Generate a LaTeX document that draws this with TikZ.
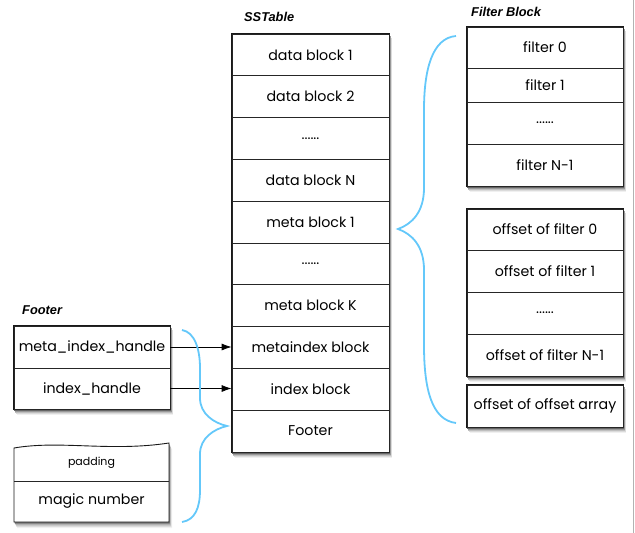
\documentclass[tikz,border=0pt]{standalone}
\usepackage{fontspec}
\setmainfont{Poppins}
\newfontfamily\labelfont{Liberation Sans}
\usetikzlibrary{backgrounds,fit,arrows.meta}
\definecolor{bracecol}{RGB}{100,200,250}
\tikzset{
  cell/.style={draw=black!85, line width=0.8pt, fill=white, inner sep=0pt,
    minimum height=41.8pt, font=\fontsize{14.2}{16}\selectfont},
  sstcell/.style={cell, minimum width=157pt},
  fcell/.style={cell, minimum width=156pt},
  grouplab/.style={anchor=west, inner sep=0pt, font=\labelfont\bfseries\itshape\fontsize{12.8}{14}\selectfont},
  frame/.style={inner sep=0pt, fill=white, draw=black!90, line width=0.9pt},
  brace/.style={draw=bracecol, line width=1.8pt},
  arrow/.style={draw=black, line width=0.8pt, -{Latex[length=10pt,width=7pt]}},
}
\newcommand\boxshadow[2]{%
  \foreach \d/\c in {6/6,4.8/14,3.6/25,2.4/40,1.3/60}
    \fill[black!\c] ([xshift=\d*0.5pt,yshift=-\d pt]#1.south west) rectangle ([xshift=\d*0.5pt,yshift=-\d pt]#2.north east);}
\begin{document}
\begin{tikzpicture}[x=1pt,y=-1pt]
\useasboundingbox (0,0) rectangle (635,533);
\draw[gray!60, line width=1pt] (633.5,0) -- (633.5,533);

% SSTable
\node[grouplab] (sstlab) at (244,17) {SSTable};
\node[sstcell] (s1) at (310.5,54.9) {data block 1};
\node[sstcell] (s2) at (310.5,96.7) {data block 2};
\node[sstcell] (s3) at (310.5,138.5) {......};
\node[sstcell] (s4) at (310.5,180.3) {data block N};
\node[sstcell] (s5) at (310.5,222.1) {meta block 1};
\node[sstcell] (s6) at (310.5,263.9) {......};
\node[sstcell] (s7) at (310.5,305.7) {meta block K};
\node[sstcell] (s8) at (310.5,347.5) {metaindex block};
\node[sstcell] (s9) at (310.5,389.3) {index block};
\node[sstcell] (s10) at (310.5,431.1) {Footer};

% Filter Block
\node[grouplab] (fblab) at (471,12) {Filter Block};
\node[fcell, minimum height=41pt] (f1) at (545,47.5) {filter 0};
\node[fcell, minimum height=34pt] (f2) at (545,85) {filter 1};
\node[fcell, minimum height=42pt] (f3) at (545,123) {......};
\node[fcell, minimum height=42pt] (f4) at (545,165) {filter N-1};

\node[fcell, minimum height=41pt] (o1) at (545,229.5) {offset of filter 0};
\node[fcell, minimum height=42pt] (o2) at (545,271) {offset of filter 1};
\node[fcell, minimum height=42pt] (o3) at (545,313) {......};
\node[fcell, minimum height=42pt] (o4) at (545,355) {offset of filter N-1};

\node[fcell, minimum height=42pt] (oo) at (545,406) {offset of offset array};

% Footer
\node[grouplab] (ftlab) at (22,310) {Footer};
\node[fcell, minimum height=42pt] (fm) at (92,347) {meta\_index\_handle};
\node[fcell, minimum height=41pt] (fi) at (92,388.5) {index\_handle};

% padding / magic
\foreach \d/\c in {6/6,4.8/14,3.6/25,2.4/40,1.3/60}
  \fill[black!\c, xshift=\d*0.5pt, yshift=-\d pt]
    (14,448) .. controls (60,440) and (110,452) .. (169,443) -- (169,522) -- (14,522) -- cycle;
\path[fill=white, draw=black!90, line width=0.9pt]
  (14,448) .. controls (60,440) and (110,452) .. (169,443) -- (169,522) -- (14,522) -- cycle;
\draw[draw=black!85, line width=0.8pt] (14,481) -- (169,481);
\node[inner sep=0pt, font=\fontsize{11}{13}\selectfont] (pad) at (91.5,463) {padding};
\node[inner sep=0pt, font=\fontsize{14.2}{16}\selectfont] (magic) at (91.5,501) {magic number};

\begin{scope}[on background layer]
  \boxshadow{s10}{s1}
  \boxshadow{f4}{f1}
  \boxshadow{o4}{o1}
  \boxshadow{oo}{oo}
  \boxshadow{fi}{fm}
  \node[frame, fit=(s1)(s10)] (sst) {};
  \node[frame, fit=(f1)(f4)] (fb) {};
  \node[frame, fit=(o1)(o4)] (ob) {};
  \node[frame, fit=(oo)] (oob) {};
  \node[frame, fit=(fm)(fi)] (ftb) {};
\end{scope}

% arrows
\draw[arrow] (fm.east) -- (fm.east -| s8.west);
\draw[arrow] (fi.east) -- (fi.east -| s9.west);

% braces
\draw[brace] (456,36) .. controls (432,38) and (424,70) .. (424,110) -- (424,188)
  .. controls (424,212) and (412,224) .. (398,229)
  .. controls (412,234) and (424,246) .. (424,270) -- (424,345)
  .. controls (424,390) and (432,420) .. (456,423);
\draw[brace] (182,330) .. controls (195,332) and (200,350) .. (200,368) -- (200,398)
  .. controls (200,414) and (214,423) .. (227,426)
  .. controls (214,429) and (200,438) .. (200,454) -- (200,490)
  .. controls (200,508) and (195,520) .. (182,522);
\end{tikzpicture}
\end{document}
